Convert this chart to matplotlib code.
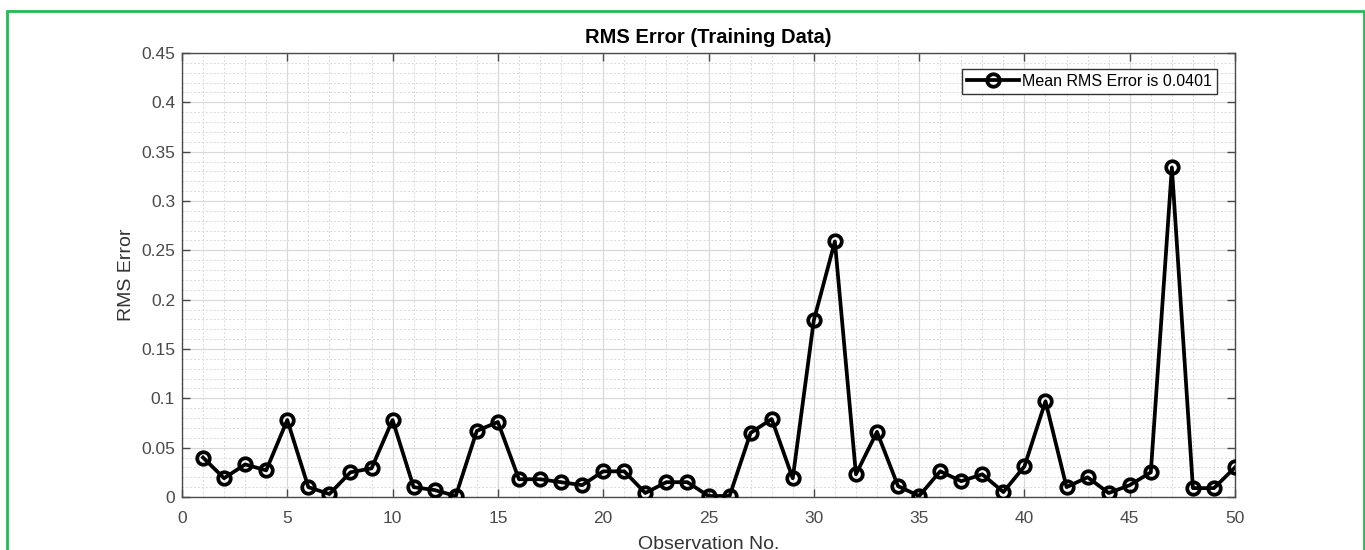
import numpy as np
import matplotlib
matplotlib.use('Agg')
import matplotlib.pyplot as plt
from matplotlib.patches import Rectangle
from matplotlib.ticker import MultipleLocator

plt.rcParams['font.family'] = ['Liberation Sans', 'DejaVu Sans']

# observation numbers and RMS error per observation
obs = list(range(1, 51))
rms_err = [0.040, 0.019, 0.033, 0.027, 0.078, 0.010, 0.003, 0.025, 0.029, 0.078,
           0.010, 0.007, 0.001, 0.067, 0.076, 0.018, 0.018, 0.015, 0.012, 0.026,
           0.026, 0.004, 0.015, 0.015, 0.001, 0.001, 0.065, 0.079, 0.019, 0.179,
           0.259, 0.023, 0.066, 0.011, 0.001, 0.026, 0.016, 0.023, 0.005, 0.031,
           0.097, 0.010, 0.020, 0.004, 0.012, 0.025, 0.334, 0.009, 0.009, 0.030]
legend_text = 'Mean RMS Error is 0.0401'

fig = plt.figure(figsize=(13.65, 5.5), dpi=100)
ax = fig.add_axes([0.1333, 0.0964, 0.7715, 0.8072])

ax.plot(obs, rms_err, '-o', color='black', lw=2.7, ms=9, mfc='none', mew=2.7,
        label=legend_text, zorder=3)

ax.set_xlim(0, 50)
ax.set_ylim(0, 0.45)
ax.xaxis.set_major_locator(MultipleLocator(5))
ax.xaxis.set_minor_locator(MultipleLocator(1))
ax.yaxis.set_minor_locator(MultipleLocator(0.01))
ax.set_yticks(np.arange(0, 0.451, 0.05))
ax.set_yticklabels(['0', '0.05', '0.1', '0.15', '0.2', '0.25', '0.3', '0.35', '0.4', '0.45'])

ax.grid(which='major', color='#d9d9d9', lw=0.9)
ax.grid(which='minor', color='#d9d9d9', lw=0.7, ls=(0, (2, 2)))
ax.set_axisbelow(True)

ax.tick_params(which='major', direction='in', length=6, top=True, right=True,
               labelsize=12.5, colors='#4a4a4a', width=1)
ax.tick_params(axis='x', which='major', pad=10)
ax.tick_params(axis='y', which='major', pad=5)
ax.tick_params(which='minor', length=0)
for sp in ax.spines.values():
    sp.set_color('#4a4a4a')
    sp.set_linewidth(1)

ax.set_xlabel('Observation No.', fontsize=14, color='#333333', labelpad=7)
ax.set_ylabel('RMS Error', fontsize=14, color='#333333', labelpad=4)
ax.set_title('RMS Error (Training Data)', fontsize=14.5, fontweight='bold', pad=7)

leg = ax.legend(loc='upper right', bbox_to_anchor=(0.983, 0.964), borderaxespad=0,
                fontsize=11.5, frameon=True, fancybox=False, framealpha=1,
                edgecolor='#333333', handlelength=3.3, borderpad=0.3,
                handletextpad=0.2)
leg.get_frame().set_linewidth(1)

# green frame around the figure
fig.patches.append(Rectangle((7 / 1365, -0.01), 1357 / 1365, 1 - 11 / 550 + 0.01,
                             transform=fig.transFigure, fill=False,
                             edgecolor='#22bb55', lw=2))

fig.savefig('out.png', dpi=100)
